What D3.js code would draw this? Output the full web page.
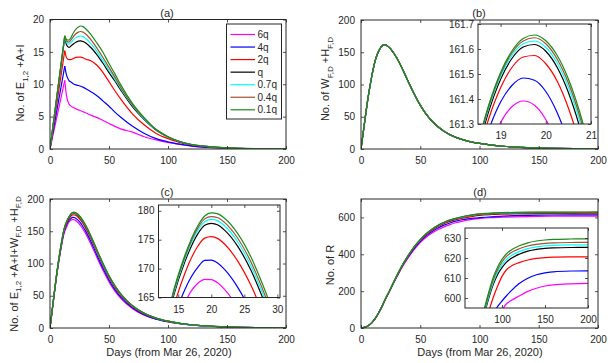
<!DOCTYPE html>
<html>
<head>
<meta charset="utf-8">
<script src="https://cdn.jsdelivr.net/npm/d3@7"></script>
<style>
  body { margin: 0; background: #fff; }
  svg { display: block; font-family: "Liberation Sans", Arial, sans-serif; }
</style>
</head>
<body>
<script>
// scenario names and colours, same order in every panel (green drawn last, on top)
var labels = ["6q", "4q", "2q", "q", "0.7q", "0.4q", "0.1q"];
var colors = ["#ff00ff", "#0000ff", "#ff0000", "#000000", "#00ffff", "#a0522d", "#1b8a1b"];

// (a) E1,2+A+I
var daysA = [0, 12.5, 14, 16, 18, 20, 22, 24, 26, 28, 30, 35, 40, 45, 50, 55, 60, 70, 80, 90, 100, 110, 120, 130, 140, 150, 160, 180, 200];
var eai = [
  [0, 10.6, 8.2, 7.0, 6.6, 6.4, 6.2, 6.05, 5.9, 5.75, 5.6, 5.2, 4.85, 4.4, 3.95, 3.5, 3.1, 2.6, 1.9, 1.4, 1.0, 0.7, 0.45, 0.3, 0.2, 0.12, 0.08, 0.03, 0.01],
  [0, 12.8, 11.4, 10.6, 10.3, 10.05, 9.9, 9.8, 9.7, 9.55, 9.35, 8.8, 8.2, 7.4, 6.6, 5.7, 4.9, 3.5, 2.4, 1.6, 1.1, 0.75, 0.48, 0.3, 0.2, 0.13, 0.08, 0.03, 0.01],
  [0, 15.2, 14.1, 13.8, 13.85, 14.0, 14.15, 14.2, 14.2, 14.1, 13.9, 13.6, 12.9, 11.8, 10.4, 9.0, 7.7, 5.4, 3.7, 2.4, 1.6, 1.0, 0.62, 0.4, 0.25, 0.16, 0.1, 0.04, 0.02],
  [0, 17.3, 16.1, 15.7, 15.95, 16.25, 16.5, 16.65, 16.7, 16.6, 16.4, 15.6, 14.5, 13.2, 11.8, 10.5, 9.1, 6.5, 4.5, 2.9, 1.85, 1.1, 0.68, 0.43, 0.27, 0.17, 0.11, 0.04, 0.02],
  [0, 17.4, 16.5, 16.2, 16.5, 16.9, 17.2, 17.4, 17.45, 17.35, 17.1, 16.2, 15.0, 13.6, 12.2, 10.8, 9.3, 6.7, 4.6, 2.95, 1.85, 1.12, 0.69, 0.44, 0.28, 0.18, 0.11, 0.04, 0.02],
  [0, 17.45, 16.7, 16.5, 16.9, 17.4, 17.8, 18.05, 18.15, 18.05, 17.8, 16.8, 15.5, 14.1, 12.6, 11.1, 9.5, 6.8, 4.7, 3.0, 1.9, 1.15, 0.7, 0.45, 0.28, 0.18, 0.11, 0.04, 0.02],
  [0, 17.5, 16.9, 16.8, 17.3, 18.0, 18.5, 18.85, 19.0, 18.9, 18.6, 17.6, 16.3, 14.9, 13.2, 11.6, 9.9, 7.0, 4.8, 3.0, 1.9, 1.15, 0.7, 0.45, 0.28, 0.18, 0.11, 0.04, 0.02]
];

// (b) W+H, the scenarios only differ near the peak
var daysBC = [0, 3, 6, 9, 12, 14, 16, 18, 19, 20, 21, 22, 24, 26, 28, 30, 35, 40, 45, 50, 55, 60, 70, 80, 90, 100, 110, 120, 130, 140, 150, 160, 180, 200];
var whMain = [0, 41, 80, 112, 137, 148, 155.5, 160.2, 161.4, 161.6, 161.2, 160.2, 157.2, 153, 147.7, 141.8, 124, 104, 85, 68, 54, 43, 27.5, 18, 12.3, 8.7, 6.1, 4.3, 3.0, 2.1, 1.5, 1.05, 0.5, 0.25];
var daysPeakB = [18.5, 18.75, 19, 19.25, 19.5, 19.75, 20, 20.25, 20.5, 20.75, 21];
var whPeak = [
  [161.059, 161.202, 161.306, 161.369, 161.392, 161.375, 161.318, 161.222, 161.085, 160.908, 160.691],
  [161.142, 161.283, 161.388, 161.454, 161.484, 161.475, 161.430, 161.346, 161.226, 161.067, 160.872],
  [161.172, 161.328, 161.445, 161.526, 161.568, 161.574, 161.541, 161.472, 161.364, 161.220, 161.037],
  [161.201, 161.358, 161.479, 161.562, 161.608, 161.618, 161.591, 161.527, 161.426, 161.288, 161.113],
  [161.215, 161.371, 161.491, 161.574, 161.621, 161.632, 161.607, 161.545, 161.447, 161.313, 161.143],
  [161.220, 161.378, 161.499, 161.584, 161.632, 161.645, 161.621, 161.560, 161.464, 161.331, 161.162],
  [161.224, 161.383, 161.506, 161.592, 161.642, 161.656, 161.633, 161.575, 161.480, 161.348, 161.181]
];

// (c) E1,2+A+I+W+H
var total = [
  [0, 43.5, 85.1, 119.6, 147.2, 156.1, 164.0, 167.5, 168.15, 168.1, 167.5, 166.4, 163.2, 158.5, 153.05, 147.0, 128.8, 108.45, 89.0, 71.55, 57.2, 45.9, 29.9, 19.8, 13.6, 9.6, 6.75, 4.7, 3.25, 2.27, 1.6, 1.1, 0.52, 0.26],
  [0, 44.07, 86.14, 121.2, 149.3, 160.0, 166.4, 170.3, 171.42, 171.48, 170.92, 169.85, 166.75, 162.5, 157.05, 150.95, 132.6, 112.0, 92.2, 74.4, 59.6, 47.8, 30.9, 20.35, 13.85, 9.75, 6.85, 4.78, 3.3, 2.3, 1.63, 1.13, 0.53, 0.26],
  [0, 44.65, 87.3, 122.94, 151.6, 162.05, 169.2, 173.95, 175.27, 175.53, 175.18, 174.25, 171.3, 167.1, 161.7, 155.6, 137.6, 116.9, 96.8, 78.4, 63.0, 50.7, 32.9, 21.7, 14.7, 10.3, 7.1, 4.92, 3.4, 2.35, 1.66, 1.15, 0.55, 0.27],
  [0, 45.15, 88.3, 124.45, 153.6, 164.1, 171.2, 176.1, 177.5, 177.83, 177.55, 176.65, 173.85, 169.7, 164.3, 158.2, 139.6, 118.5, 98.2, 79.8, 64.5, 52.1, 34.0, 22.5, 15.2, 10.55, 7.2, 4.95, 3.42, 2.36, 1.67, 1.15, 0.55, 0.27],
  [0, 45.2, 88.35, 124.5, 153.7, 164.5, 171.7, 176.7, 178.1, 178.5, 178.25, 177.4, 174.6, 170.45, 165.05, 158.9, 140.2, 119.0, 98.6, 80.2, 64.8, 52.3, 34.2, 22.6, 15.25, 10.55, 7.2, 4.95, 3.43, 2.37, 1.67, 1.15, 0.55, 0.27],
  [0, 45.2, 88.4, 124.6, 153.75, 164.7, 172.0, 177.1, 178.6, 179.0, 178.8, 178.0, 175.25, 171.15, 165.75, 159.6, 140.8, 119.5, 99.1, 80.6, 65.1, 52.5, 34.3, 22.7, 15.3, 10.6, 7.25, 5.0, 3.45, 2.38, 1.68, 1.16, 0.55, 0.27],
  [0, 45.2, 88.4, 124.6, 153.8, 164.9, 172.3, 177.5, 179.1, 179.63, 179.47, 178.7, 176.05, 172.0, 166.6, 160.4, 141.6, 120.3, 99.9, 81.2, 65.6, 52.9, 34.5, 22.8, 15.3, 10.6, 7.25, 5.0, 3.45, 2.38, 1.68, 1.16, 0.55, 0.27]
];

// (d) R
var daysD = [0, 3, 6, 9, 12, 15, 18, 21, 24, 27, 30, 35, 40, 45, 50, 55, 60, 65, 70, 75, 80, 85, 90, 95, 100, 105, 110, 120, 130, 140, 150, 160, 180, 200];
var recovered = [
  [0, 3, 12, 27, 50, 81, 118, 160, 197, 236, 274, 333, 383, 426, 463, 492, 515, 534, 549, 561, 571, 579, 585.5, 590.5, 594, 597, 598.6, 601, 603.3, 604.9, 606, 606.6, 607.1, 607.3],
  [0, 3, 12, 27.5, 51, 82.5, 120, 162, 199, 239, 277, 337, 388, 432, 470, 500, 524, 543, 558, 570, 580, 587.5, 592.5, 595.8, 598.5, 601, 603.3, 607.2, 609.9, 611.6, 612.6, 613.1, 613.5, 613.6],
  [0, 3, 12, 28, 52, 83.5, 121, 163, 200, 240, 279, 340, 392, 437, 475, 506, 531, 551, 566, 578, 588, 594, 600.5, 606, 610.8, 614, 615.8, 617.7, 619, 619.8, 620.2, 620.4, 620.55, 620.6],
  [0, 3, 12, 28, 52, 84, 122, 163.5, 200.5, 241, 280, 341, 394, 440, 478, 510, 535, 555, 570.5, 583, 592.5, 600.5, 607, 611.8, 615.2, 617.8, 619.6, 621.9, 623.4, 624.3, 624.8, 625.05, 625.25, 625.3],
  [0, 3, 12, 28, 52, 84, 122, 163.5, 200.5, 241, 280, 341.5, 395, 441, 479, 511, 536, 556, 571.5, 584.5, 593.5, 601.5, 608, 613, 616.6, 619.2, 621, 623.2, 624.7, 625.6, 626.1, 626.35, 626.55, 626.6],
  [0, 3, 12, 28, 52, 84, 122, 164, 201, 241.5, 280.5, 342, 395.5, 441.5, 479.5, 511.5, 536.5, 557, 572.5, 585.5, 594.5, 602.5, 609.2, 614.2, 618, 620.7, 622.5, 624.6, 626, 626.8, 627.3, 627.55, 627.75, 627.8],
  [0, 3, 12, 28, 52, 84, 122, 164, 201, 242, 281, 342.5, 396, 442, 480, 512, 537.5, 558, 573.5, 586.5, 595.5, 603.5, 610.5, 615.5, 619.3, 622, 623.8, 626.1, 627.6, 628.5, 629, 629.3, 629.5, 629.6]
];

var width = 612;
var height = 363;
var axisColor = "#262626";
var clipCount = 0;

var svg = d3.select("body").append("svg")
  .attr("width", width)
  .attr("height", height);

function zip(xs, ys) {
  return xs.map(function(d, i) { return [d, ys[i]]; });
}

// matlab style box axes, ticks pointing inwards on all four sides
function makeAxes(box, xDomain, yDomain, xTicks, yTicks, opt) {
  var x = d3.scaleLinear().domain(xDomain).range([box.x0, box.x1]);
  var y = d3.scaleLinear().domain(yDomain).range([box.y1, box.y0]);
  var g = svg.append("g");

  g.append("rect")
    .attr("x", box.x0).attr("y", box.y0)
    .attr("width", box.x1 - box.x0).attr("height", box.y1 - box.y0)
    .attr("fill", "#fff");

  var id = "clip" + (clipCount++);
  g.append("clipPath").attr("id", id).append("rect")
    .attr("x", box.x0).attr("y", box.y0)
    .attr("width", box.x1 - box.x0).attr("height", box.y1 - box.y0);
  var plot = g.append("g").attr("clip-path", "url(#" + id + ")");

  var yFmt = opt.yFormat || d3.format("d");
  var axes = [
    [d3.axisBottom(x).tickValues(xTicks).tickFormat(d3.format("d")).tickPadding(opt.xPad), "translate(0," + box.y1 + ")"],
    [d3.axisTop(x).tickValues(xTicks).tickFormat(""), "translate(0," + box.y0 + ")"],
    [d3.axisLeft(y).tickValues(yTicks).tickFormat(yFmt).tickPadding(opt.yPad), "translate(" + box.x0 + ",0)"],
    [d3.axisRight(y).tickValues(yTicks).tickFormat(""), "translate(" + box.x1 + ",0)"]
  ];
  axes.forEach(function(a) {
    var ag = g.append("g")
      .attr("transform", a[1])
      .call(a[0].tickSize(-3))
      .attr("font-family", null)
      .attr("font-size", 10);
    ag.select(".domain").remove();
    ag.selectAll("line").attr("stroke", axisColor).attr("stroke-width", 0.8);
    ag.selectAll("text").attr("fill", axisColor);
  });

  return { x: x, y: y, g: g, plot: plot, box: box };
}

function frame(ax) {
  var b = ax.box;
  ax.g.append("rect")
    .attr("x", b.x0).attr("y", b.y0)
    .attr("width", b.x1 - b.x0).attr("height", b.y1 - b.y0)
    .attr("fill", "none")
    .attr("stroke", axisColor)
    .attr("stroke-width", 1);
}

function drawLines(ax, days, rows) {
  var line = d3.line()
    .x(function(d) { return ax.x(d[0]); })
    .y(function(d) { return ax.y(d[1]); })
    .curve(d3.curveMonotoneX);
  rows.forEach(function(row, i) {
    ax.plot.append("path")
      .attr("d", line(zip(days, row)))
      .attr("fill", "none")
      .attr("stroke", colors[i])
      .attr("stroke-width", 1.2);
  });
}

// straight climb to the spike at the first kink, smooth curve after it
function drawSpiked(ax, days, rows) {
  var straight = d3.line()
    .x(function(d) { return ax.x(d[0]); })
    .y(function(d) { return ax.y(d[1]); });
  var smooth = d3.line()
    .x(function(d) { return ax.x(d[0]); })
    .y(function(d) { return ax.y(d[1]); })
    .curve(d3.curveMonotoneX);
  rows.forEach(function(row, i) {
    var pts = zip(days, row);
    var g = ax.plot.append("g")
      .attr("fill", "none")
      .attr("stroke", colors[i])
      .attr("stroke-width", 1.2)
      .attr("stroke-linejoin", "miter");
    g.append("path").attr("d", straight(pts.slice(0, 2)));
    g.append("path").attr("d", smooth(pts.slice(1)));
  });
}

function title(text, x, y) {
  svg.append("text")
    .attr("x", x).attr("y", y)
    .attr("text-anchor", "middle")
    .attr("font-size", 11)
    .attr("fill", axisColor)
    .text(text);
}

// parts: [text, isSubscript]
function yLabel(parts, x, y) {
  var t = svg.append("text")
    .attr("transform", "translate(" + x + "," + y + ") rotate(-90)")
    .attr("text-anchor", "middle")
    .attr("font-size", 11)
    .attr("fill", axisColor);
  var down = false;
  parts.forEach(function(p) {
    var s = t.append("tspan").text(p[0]);
    if (p[1]) {
      s.attr("font-size", 8);
      if (!down) { s.attr("dy", 3.5); down = true; }
    } else if (down) {
      s.attr("dy", -3.5);
      down = false;
    }
  });
}

function xLabel(text, x, y) {
  svg.append("text")
    .attr("x", x).attr("y", y)
    .attr("text-anchor", "middle")
    .attr("font-size", 11)
    .attr("fill", axisColor)
    .text(text);
}

var mainX = [0, 50, 100, 150, 200];
var mainPad = { xPad: 7.5, yPad: 6 };
var insetPad = { xPad: 8, yPad: 4 };

// ---- (a)
var axA = makeAxes({ x0: 50, x1: 286, y0: 19.5, y1: 149 }, [0, 200], [0, 20], mainX, [0, 5, 10, 15, 20], mainPad);
drawSpiked(axA, daysA, eai);
frame(axA);
title("(a)", 167, 17);
yLabel([["No. of E", false], ["1,2", true], [" +A+I", false]], 24, 83);

// legend
var legend = svg.append("g");
legend.append("rect")
  .attr("x", 226.5).attr("y", 24)
  .attr("width", 55).attr("height", 95)
  .attr("fill", "#fff")
  .attr("stroke", axisColor)
  .attr("stroke-width", 1);
labels.forEach(function(lab, i) {
  var ly = 34.5 + i * 12.55;
  legend.append("line")
    .attr("x1", 230.5).attr("x2", 255)
    .attr("y1", ly).attr("y2", ly)
    .attr("stroke", colors[i])
    .attr("stroke-width", 1.2);
  legend.append("text")
    .attr("x", 257.5).attr("y", ly)
    .attr("dy", "0.35em")
    .attr("font-size", 10)
    .attr("fill", axisColor)
    .text(lab);
});

// ---- (b)
var axB = makeAxes({ x0: 361, x1: 598, y0: 20, y1: 149 }, [0, 200], [0, 200], mainX, [0, 50, 100, 150, 200], mainPad);
drawLines(axB, daysBC, labels.map(function() { return whMain; }));
frame(axB);
var inB = makeAxes({ x0: 478, x1: 591, y0: 24, y1: 124 }, [18.5, 21], [161.3, 161.7], [19, 20, 21],
  [161.3, 161.4, 161.5, 161.6, 161.7], { xPad: 8, yPad: 4, yFormat: d3.format(".1f") });
drawLines(inB, daysPeakB, whPeak);
frame(inB);
title("(b)", 479, 17);
yLabel([["No. of W", false], ["F,D", true], [" +H", false], ["F,D", true]], 329, 79);

// ---- (c)
var axC = makeAxes({ x0: 50, x1: 286, y0: 199, y1: 328 }, [0, 200], [0, 200], mainX, [0, 50, 100, 150, 200], mainPad);
drawLines(axC, daysBC, total);
frame(axC);
var inC = makeAxes({ x0: 158.5, x1: 280, y0: 205, y1: 297.5 }, [12, 30.4], [165, 181], [15, 20, 25, 30],
  [165, 170, 175, 180], insetPad);
drawLines(inC, daysBC, total);
frame(inC);
title("(c)", 167, 196);
yLabel([["No. of E", false], ["1,2", true], [" +A+I+W", false], ["F,D", true], [" +H", false], ["F,D", true]], 17.5, 264);
xLabel("Days (from Mar 26, 2020)", 169, 356);

// ---- (d)
var axD = makeAxes({ x0: 361, x1: 598, y0: 199, y1: 328 }, [0, 200], [0, 700], mainX, [0, 200, 400, 600], mainPad);
drawLines(axD, daysD, recovered);
frame(axD);
var inD = makeAxes({ x0: 465, x1: 588, y0: 228, y1: 308 }, [57, 200], [595, 635], [100, 150, 200],
  [600, 610, 620, 630], insetPad);
drawLines(inD, daysD, recovered);
frame(inD);
title("(d)", 480, 196);
yLabel([["No. of R", false]], 333.5, 265);
xLabel("Days (from Mar 26, 2020)", 480, 356);
</script>
</body>
</html>
